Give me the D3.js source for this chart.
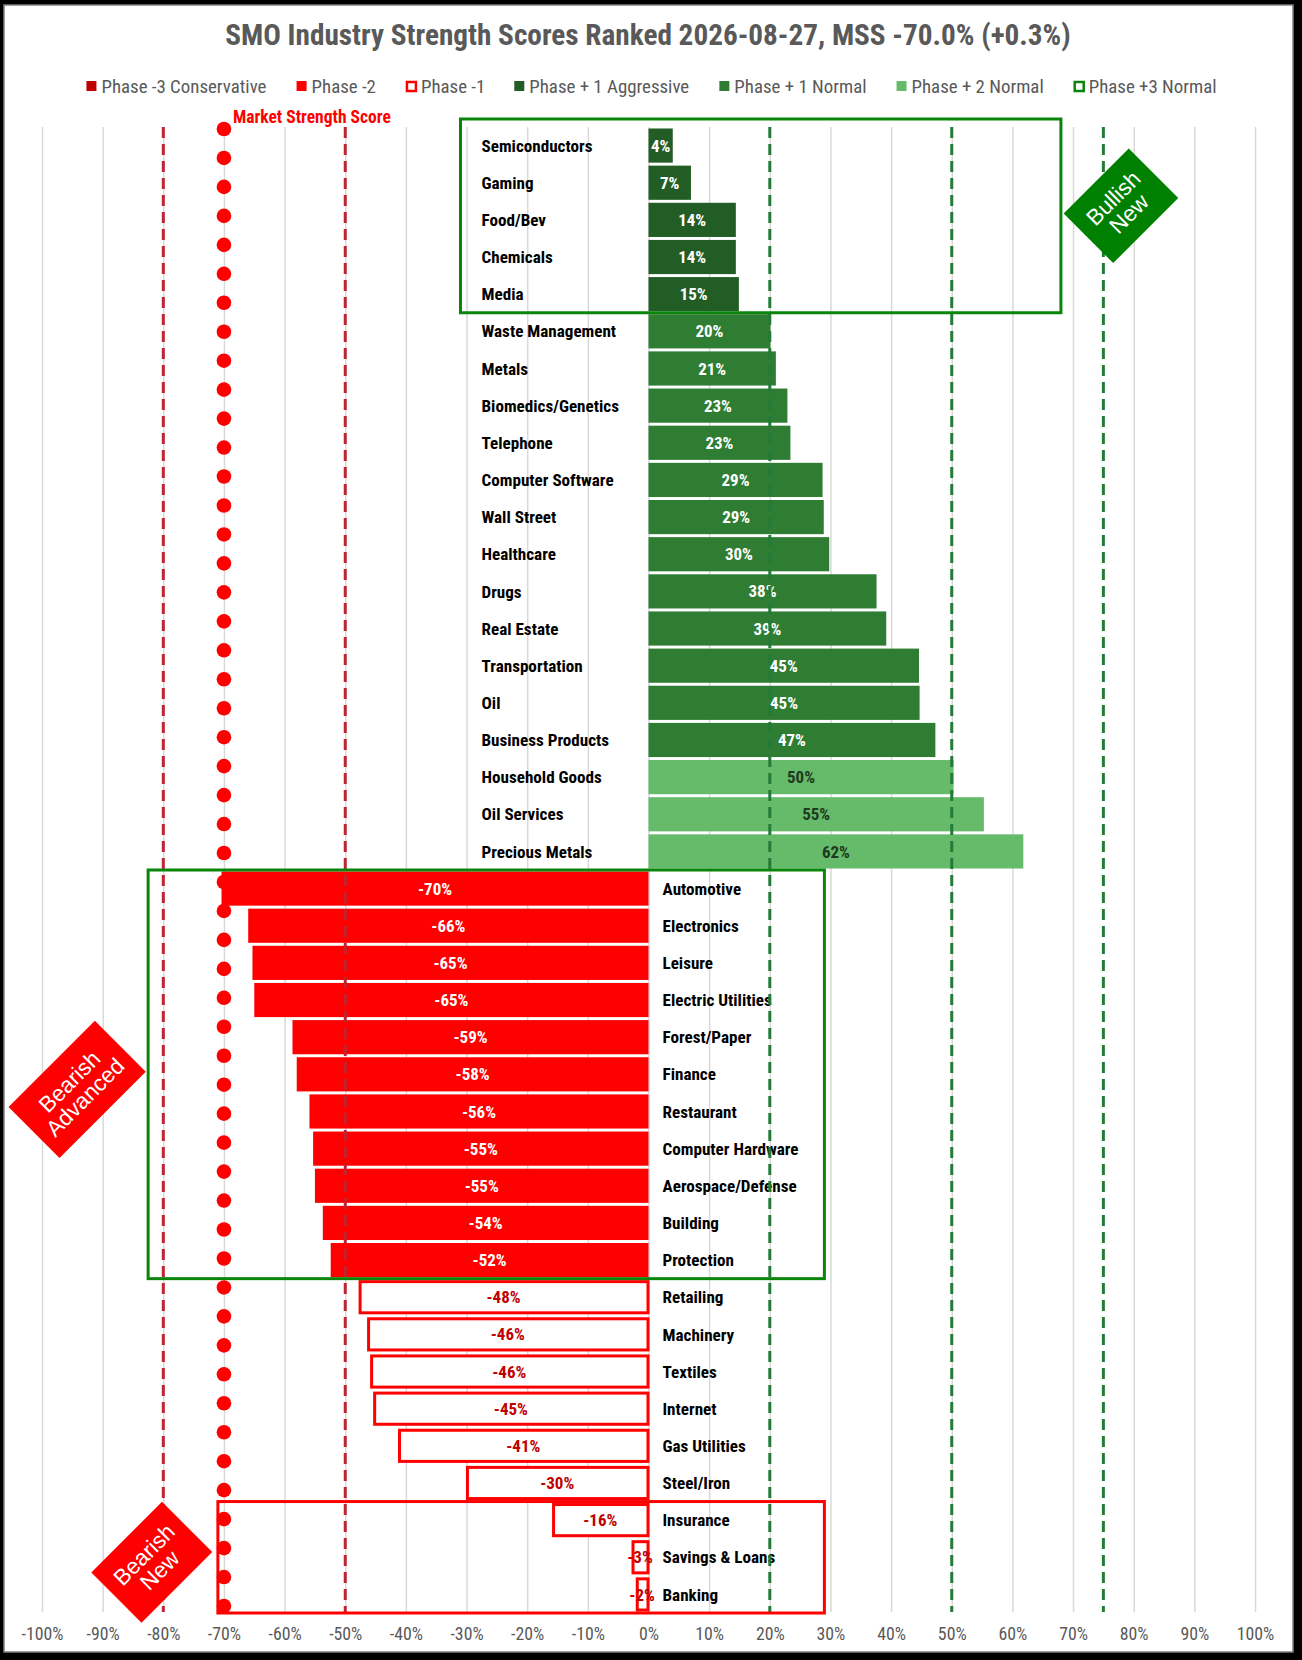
<!DOCTYPE html>
<html lang="en">
<head>
<meta charset="UTF-8">
<title>SMO Industry Strength Scores Ranked</title>
<script src="https://cdn.jsdelivr.net/npm/d3@7"></script>
<style>
  body { margin: 0; background: #000; }
  svg { display: block; }
</style>
</head>
<body>
<div id="viz"></div>
<script>
// industries, top to bottom as ranked in the chart
var industries = ["Semiconductors", "Gaming", "Food/Bev", "Chemicals", "Media",
  "Waste Management", "Metals", "Biomedics/Genetics", "Telephone", "Computer Software",
  "Wall Street", "Healthcare", "Drugs", "Real Estate", "Transportation", "Oil",
  "Business Products", "Household  Goods", "Oil Services", "Precious Metals",
  "Automotive", "Electronics", "Leisure", "Electric Utilities", "Forest/Paper",
  "Finance", "Restaurant", "Computer Hardware", "Aerospace/Defense", "Building",
  "Protection", "Retailing", "Machinery", "Textiles", "Internet", "Gas Utilities",
  "Steel/Iron", "Insurance", "Savings & Loans", "Banking"];

var scores = [0.040, 0.070, 0.144, 0.144, 0.149,
  0.201, 0.210, 0.229, 0.234, 0.287,
  0.289, 0.298, 0.376, 0.392, 0.446, 0.447,
  0.473, 0.503, 0.553, 0.618,
  -0.704, -0.660, -0.653, -0.650, -0.587,
  -0.580, -0.559, -0.553, -0.550, -0.537,
  -0.524, -0.478, -0.464, -0.459, -0.454, -0.413,
  -0.301, -0.159, -0.028, -0.021];

var phases = ["+1A", "+1A", "+1A", "+1A", "+1A",
  "+1", "+1", "+1", "+1", "+1", "+1", "+1", "+1", "+1", "+1", "+1", "+1",
  "+2", "+2", "+2",
  "-2", "-2", "-2", "-2", "-2", "-2", "-2", "-2", "-2", "-2", "-2",
  "-1", "-1", "-1", "-1", "-1", "-1", "-1", "-1", "-1"];

// market strength score line, one marker per point
var mssPoints = [-0.70, -0.70, -0.70, -0.70, -0.70, -0.70, -0.70, -0.70, -0.70, -0.70,
  -0.70, -0.70, -0.70, -0.70, -0.70, -0.70, -0.70, -0.70, -0.70, -0.70,
  -0.70, -0.70, -0.70, -0.70, -0.70, -0.70, -0.70, -0.70, -0.70, -0.70,
  -0.70, -0.70, -0.70, -0.70, -0.70, -0.70, -0.70, -0.70, -0.70, -0.70,
  -0.70, -0.70, -0.70, -0.70, -0.70, -0.70, -0.70, -0.70, -0.70, -0.70,
  -0.70, -0.70];

var tickValues = [-1, -0.9, -0.8, -0.7, -0.6, -0.5, -0.4, -0.3, -0.2, -0.1, 0,
  0.1, 0.2, 0.3, 0.4, 0.5, 0.6, 0.7, 0.8, 0.9, 1];

var bearishLines = [-0.8, -0.5];
var bullishLines = [0.2, 0.5, 0.75];

var legendKeys = ["-3", "-2", "-1", "+1A", "+1", "+2", "+3"];
var legendLabels = ["Phase -3 Conservative", "Phase -2", "Phase -1", "Phase + 1 Aggressive",
  "Phase + 1 Normal", "Phase + 2 Normal", "Phase +3 Normal"];

var titleText = "SMO Industry Strength Scores Ranked 2026-08-27, MSS -70.0% (+0.3%)";

// colours per phase
var phaseFill = { "-3": "#C00000", "-2": "#FF0000", "-1": "#FFFFFF",
  "+1A": "#215D24", "+1": "#2E7D32", "+2": "#66BB6A", "+3": "#FFFFFF" };
var phaseStroke = { "-1": "#FF0000", "+3": "#0A850A" };
var phaseText = { "-1": "#C00000", "+2": "#1E3A20" };

var W = 1302, H = 1660;
var narrow = "'Liberation Sans Narrow', 'Arial Narrow', 'Roboto Condensed', 'Liberation Sans', sans-serif";
var plain = "'Liberation Sans', Arial, sans-serif";

var svg = d3.select("#viz").append("svg")
  .attr("width", W)
  .attr("height", H);

// frame
svg.append("rect").attr("width", W).attr("height", H).attr("fill", "#000");
svg.append("rect")
  .attr("x", 4).attr("y", 5).attr("width", 1289).attr("height", 1647)
  .attr("fill", "#fff").attr("stroke", "#808080").attr("stroke-width", 1.5);

// measure helper so text keeps the width seen in the picture
function fitSize(txt, target, weight, family) {
  var t = svg.append("text").attr("font-size", 20).attr("font-weight", weight)
    .attr("font-family", family).text(txt);
  var w = t.node().getComputedTextLength();
  t.remove();
  return 20 * target / w;
}

var plotTop = 127, plotBottom = 1612;

var x = d3.scaleLinear().domain([-1, 1]).range([42, 1255]);
var y = d3.scaleBand().domain(industries).range([plotTop, plotBottom + 1])
  .paddingInner(0.08).paddingOuter(0.04);
var yDot = d3.scalePoint().domain(d3.range(mssPoints.length)).range([129, 1606]);

var rows = industries.map(function(d, i) {
  return { name: d, value: scores[i], phase: phases[i] };
});

var pct = function(d) { return Math.round(d * 100) + "%"; };

// gridlines
var grid = svg.append("g")
  .attr("transform", "translate(0," + plotBottom + ")")
  .call(d3.axisBottom(x).tickValues(tickValues).tickSize(-(plotBottom - plotTop)).tickFormat(""));
grid.select(".domain").remove();
grid.selectAll("line").attr("stroke", "#d9d9d9").attr("stroke-width", 1.5);

// tick labels
var tickSize = fitSize("-100%", 42, "normal", narrow);
var axis = svg.append("g")
  .attr("transform", "translate(0," + plotBottom + ")")
  .call(d3.axisBottom(x).tickValues(tickValues).tickSize(0).tickPadding(15).tickFormat(pct));
axis.select(".domain").remove();
axis.selectAll("text")
  .attr("fill", "#595959")
  .attr("font-family", narrow)
  .attr("font-size", tickSize);

// bars
var bw = y.bandwidth();
svg.append("g").selectAll("rect")
  .data(rows)
  .enter().append("rect")
  .attr("x", function(d) { return x(Math.min(0, d.value)); })
  .attr("y", function(d) { return y(d.name); })
  .attr("width", function(d) { return Math.abs(x(d.value) - x(0)); })
  .attr("height", bw)
  .attr("fill", function(d) { return phaseFill[d.phase]; })
  .attr("stroke", function(d) { return phaseStroke[d.phase] || "none"; })
  .attr("stroke-width", 3)
  .each(function(d) {
    if (d.phase === "-1") {
      d3.select(this)
        .attr("x", x(d.value) + 1.5)
        .attr("y", y(d.name) + 1.5)
        .attr("width", x(0) - x(d.value) - 2)
        .attr("height", bw - 3);
    }
  });

// value labels
var valSize = fitSize("14%", 28, "bold", narrow);
svg.append("g").selectAll("text")
  .data(rows)
  .enter().append("text")
  .attr("x", function(d) { return (x(d.value) + x(0)) / 2; })
  .attr("y", function(d) { return y(d.name) + bw / 2; })
  .attr("dy", "0.36em")
  .attr("text-anchor", "middle")
  .attr("font-family", narrow)
  .attr("font-weight", "bold")
  .attr("font-size", valSize)
  .attr("fill", function(d) { return phaseText[d.phase] || "#fff"; })
  .text(function(d) { return pct(d.value); });

// category labels
var catSize = fitSize("Semiconductors", 111, "bold", narrow);
svg.append("g").selectAll("text")
  .data(rows)
  .enter().append("text")
  .attr("x", function(d) { return d.value >= 0 ? x(0) - 167 : x(0) + 14; })
  .attr("y", function(d) { return y(d.name) + bw / 2; })
  .attr("dy", "0.36em")
  .attr("font-family", narrow)
  .attr("font-weight", "bold")
  .attr("font-size", catSize)
  .attr("fill", "#000")
  .text(function(d) { return d.name; });

// phase threshold lines
function dashed(vals, color) {
  svg.append("g").selectAll("line")
    .data(vals)
    .enter().append("line")
    .attr("x1", function(d) { return x(d); })
    .attr("x2", function(d) { return x(d); })
    .attr("y1", plotTop)
    .attr("y2", plotBottom)
    .attr("stroke", color)
    .attr("stroke-width", 3)
    .attr("stroke-dasharray", "11,6");
}
dashed(bearishLines, "#BF2433");
dashed(bullishLines, "#237B38");

// group boxes
var boxes = [
  { first: "Semiconductors", last: "Media", x0: -0.31, x1: 0.68, color: "#0A850A" },
  { first: "Automotive", last: "Protection", x0: -0.825, x1: 0.29, color: "#0A850A" },
  { first: "Insurance", last: "Banking", x0: -0.71, x1: 0.29, color: "#FF0000" }
];
var gap = (y.step() - bw) / 2;
svg.append("g").selectAll("rect")
  .data(boxes)
  .enter().append("rect")
  .attr("x", function(d) { return x(d.x0); })
  .attr("y", function(d) {
    return y(d.first) - gap - (d.first === industries[0] ? 8 : 0);
  })
  .attr("width", function(d) { return x(d.x1) - x(d.x0); })
  .attr("height", function(d) {
    return y(d.last) + bw + gap - y(d.first) + gap + (d.first === industries[0] ? 8 : 0);
  })
  .attr("fill", "none")
  .attr("stroke", function(d) { return d.color; })
  .attr("stroke-width", 3);

// market strength score markers
svg.append("g").selectAll("circle")
  .data(mssPoints)
  .enter().append("circle")
  .attr("cx", function(d) { return x(d); })
  .attr("cy", function(d, i) { return yDot(i); })
  .attr("r", 7.3)
  .attr("fill", "#FF0000");

svg.append("text")
  .attr("x", x(mssPoints[0]) + 9)
  .attr("y", yDot(0) - 12)
  .attr("dy", "0.35em")
  .attr("font-family", narrow)
  .attr("font-weight", "bold")
  .attr("font-size", fitSize("Market Strength Score", 158, "bold", narrow))
  .attr("fill", "#FF0000")
  .text("Market Strength Score");

// tag diamonds
var tags = [
  { lines: ["Bullish", "New"], cx: x(0.779), cy: y("Food/Bev") + 3, w: 92, h: 70, fill: "#008000" },
  { lines: ["Bearish", "Advanced"], cx: x(-0.942), cy: y("Restaurant") - 5, w: 122, h: 72, fill: "#FF0000" },
  { lines: ["Bearish", "New"], cx: x(-0.819), cy: y("Savings & Loans") + bw / 2 + 5, w: 100, h: 71, fill: "#FF0000" }
];
var tagSize = fitSize("Bearish", 76, "normal", plain);
tags.forEach(function(t) {
  var g = svg.append("g")
    .attr("transform", "translate(" + t.cx + "," + t.cy + ") rotate(-45)");
  g.append("rect")
    .attr("x", -t.w / 2).attr("y", -t.h / 2)
    .attr("width", t.w).attr("height", t.h)
    .attr("fill", t.fill);
  g.selectAll("text")
    .data(t.lines)
    .enter().append("text")
    .attr("y", function(d, i) { return (i - 0.5) * 22; })
    .attr("dy", "0.35em")
    .attr("text-anchor", "middle")
    .attr("font-family", plain)
    .attr("font-size", tagSize)
    .attr("fill", "#fff")
    .text(function(d) { return d; });
});

// title
svg.append("text")
  .attr("x", 648)
  .attr("y", 45)
  .attr("text-anchor", "middle")
  .attr("font-family", narrow)
  .attr("font-weight", "bold")
  .attr("font-size", fitSize(titleText, 846, "bold", narrow))
  .attr("fill", "#595959")
  .text(titleText);

// legend
var legSize = fitSize("Phase -3 Conservative", 165, "normal", narrow);
var legend = svg.append("g");
var items = legend.selectAll("g")
  .data(legendKeys)
  .enter().append("g");
items.append("text")
  .attr("x", 15)
  .attr("y", 86)
  .attr("dy", "0.35em")
  .attr("font-family", narrow)
  .attr("font-size", legSize)
  .attr("fill", "#595959")
  .text(function(d, i) { return legendLabels[i]; });
items.append("rect")
  .attr("x", function(d) { return phaseStroke[d] ? 1 : 0; })
  .attr("y", function(d) { return phaseStroke[d] ? 82 : 81; })
  .attr("width", function(d) { return phaseStroke[d] ? 9 : 10; })
  .attr("height", function(d) { return phaseStroke[d] ? 9 : 10; })
  .attr("fill", function(d) { return phaseFill[d]; })
  .attr("stroke", function(d) { return phaseStroke[d] || "none"; })
  .attr("stroke-width", 2.5);
var widths = [];
items.each(function() { widths.push(this.getBBox().width); });
var total = d3.sum(widths) + 30 * (widths.length - 1);
var cursor = 651 - total / 2;
items.attr("transform", function(d, i) {
  var tx = cursor;
  cursor += widths[i] + 30;
  return "translate(" + tx + ",0)";
});
</script>
</body>
</html>
